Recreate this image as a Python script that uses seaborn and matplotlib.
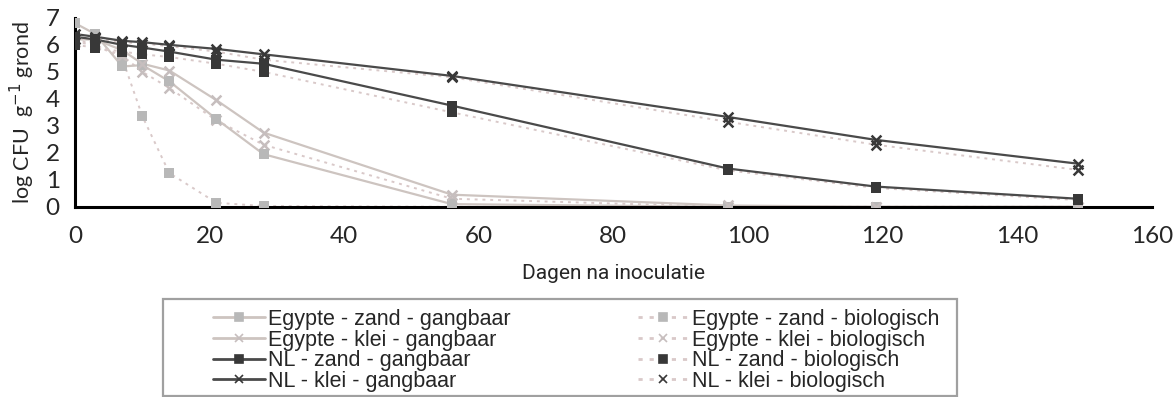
import matplotlib
matplotlib.use("Agg")
import matplotlib.pyplot as plt
import seaborn as sns
import pandas as pd
from matplotlib.lines import Line2D
from matplotlib.patches import Rectangle

days = [0, 3, 7, 10, 14, 21, 28, 56, 97, 119, 149]

egy_zand_gang = [6.8, 6.4, 5.2, 5.25, 4.65, 3.25, 1.95, 0.1, 0.0, 0.0, 0.0]
egy_klei_gang = [6.2, 6.2, 5.8, 5.3, 5.05, 3.95, 2.75, 0.45, 0.05, 0.0, 0.0]
nl_zand_gang = [6.3, 6.2, 6.0, 5.9, 5.75, 5.45, 5.3, 3.75, 1.42, 0.75, 0.3]
nl_klei_gang = [6.4, 6.3, 6.15, 6.1, 6.0, 5.85, 5.65, 4.85, 3.33, 2.48, 1.6]
egy_zand_bio = [6.2, 6.0, 5.5, 3.35, 1.25, 0.15, 0.03, 0.0, 0.0, 0.0, 0.0]
egy_klei_bio = [6.1, 6.0, 5.6, 5.0, 4.4, 3.2, 2.3, 0.3, 0.0, 0.0, 0.0]
nl_zand_bio = [6.0, 5.9, 5.75, 5.65, 5.55, 5.3, 5.0, 3.5, 1.35, 0.7, 0.25]
nl_klei_bio = [6.2, 6.25, 6.1, 6.05, 5.95, 5.75, 5.45, 4.8, 3.15, 2.3, 1.37]

labels = [
    "Egypte - zand - gangbaar", "Egypte - klei - gangbaar",
    "NL - zand - gangbaar", "NL - klei - gangbaar",
    "Egypte - zand - biologisch", "Egypte - klei - biologisch",
    "NL - zand - biologisch", "NL - klei - biologisch",
]
series = [egy_zand_gang, egy_klei_gang, nl_zand_gang, nl_klei_gang,
          egy_zand_bio, egy_klei_bio, nl_zand_bio, nl_klei_bio]

light_line = "#cdc4c0"
light_mark = "#b8b8b8"
dark_line = "#4a4a4a"
dark_mark = "#383838"
bio_line = "#d9c9c9"
dots = (0, (1.5, 2.5))

styles = [
    dict(lc=light_line, ls="-", m="s", mc=light_mark),
    dict(lc=light_line, ls="-", m="x", mc="#c6bebe"),
    dict(lc=dark_line, ls="-", m="s", mc=dark_mark),
    dict(lc=dark_line, ls="-", m="x", mc=dark_mark),
    dict(lc=bio_line, ls=dots, m="s", mc=light_mark),
    dict(lc=bio_line, ls=dots, m="x", mc="#c6bebe"),
    dict(lc=bio_line, ls=dots, m="s", mc=dark_mark),
    dict(lc=bio_line, ls=dots, m="x", mc=dark_mark),
]

sns.set_style("white")
plt.rcParams["font.family"] = ["Lato", "DejaVu Sans"]

fig = plt.figure(figsize=(11.74, 3.97), dpi=100)
ax = fig.add_axes([0.064, 0.479, 0.917, 0.476])

draw_order = [4, 5, 0, 1, 6, 7, 2, 3]
handles = {}
for i in draw_order:
    st = styles[i]
    df = pd.DataFrame({"x": days, "y": series[i]})
    sns.lineplot(data=df, x="x", y="y", ax=ax, color=st["lc"], linestyle=st["ls"],
                 linewidth=1.6 if st["ls"] == "-" else 1.4, zorder=2)
    sns.scatterplot(data=df, x="x", y="y", ax=ax, marker=st["m"], color=st["mc"],
                    s=55 if st["m"] == "s" else 50, linewidth=1.8 if st["m"] == "x" else 0,
                    edgecolor=st["mc"] if st["m"] == "s" else None, zorder=3)
    handles[i] = Line2D([], [], color=st["lc"], linestyle=st["ls"], linewidth=2,
                        marker=st["m"], markersize=6, markerfacecolor=st["mc"],
                        markeredgecolor=st["mc"], markeredgewidth=1.2)

ax.set_xlim(0, 160)
ax.set_ylim(0, 7)
ax.set_xticks(range(0, 161, 20))
ax.set_yticks(range(0, 8))
for s in ["top", "right"]:
    ax.spines[s].set_visible(False)
for s in ["left", "bottom"]:
    ax.spines[s].set_linewidth(2.2)
    ax.spines[s].set_color("black")
ax.tick_params(axis="both", direction="out", length=6, width=2.2, labelsize=17.5,
               pad=5, color="black")
ax.tick_params(axis="x", pad=8)

ax.set_xlabel("Dagen na inoculatie", fontsize=15, labelpad=12, family=["Roboto", "DejaVu Sans"])
ax.set_ylabel("log CFU  g$^{-1}$ grond", fontsize=15.5, labelpad=6)

leg = fig.legend([handles[i] for i in range(8)], labels, ncol=2,
                 loc="upper left", bbox_to_anchor=(213 / 1174, 1 - 309 / 397),
                 frameon=False, handlelength=2.4, handletextpad=0.15,
                 labelspacing=-0.02, borderpad=0.0, columnspacing=5.9,
                 borderaxespad=0.0,
                 prop={"family": ["Liberation Sans", "DejaVu Sans"], "size": 15.5})
fig.patches.append(Rectangle((163 / 1174, 1 / 397), (957 - 163) / 1174, (397 - 300) / 397,
                             transform=fig.transFigure, fill=False,
                             edgecolor="#a0a0a0", linewidth=1.6))

fig.savefig("out.png", dpi=100)
